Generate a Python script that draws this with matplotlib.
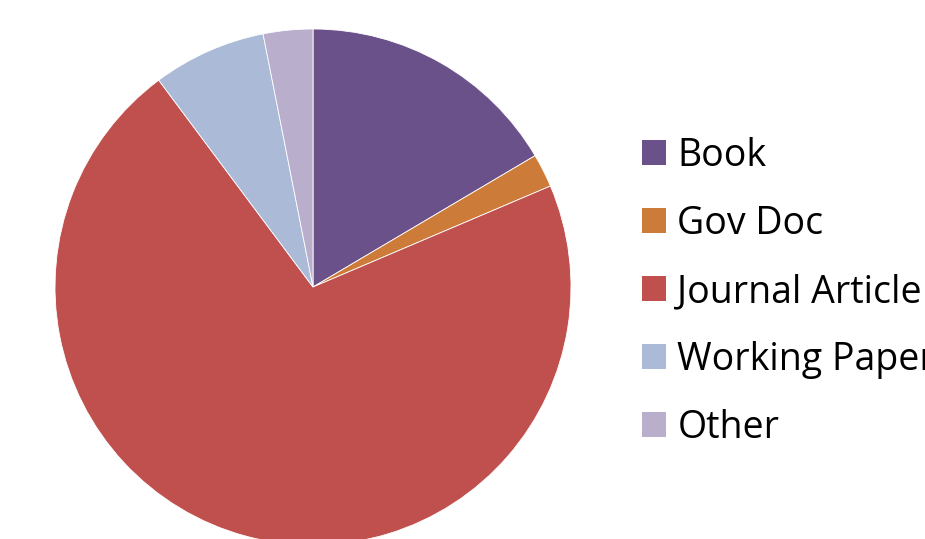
import matplotlib
matplotlib.use("Agg")
import matplotlib.pyplot as plt
from matplotlib.patches import Patch

categories = ["Book", "Gov Doc", "Journal Article", "Working Paper", "Other"]
values = [16.5, 2.1, 71.2, 7.1, 3.1]
colors = ["#6A5189", "#CD7B39", "#C0504D", "#AABAD7", "#B9AECB"]

fig = plt.figure(figsize=(9.25, 5.39), dpi=100)
ax = fig.add_axes([0, 0, 1, 1])
ax.pie(values, colors=colors, startangle=90, counterclock=False,
       center=(313, 252), radius=258,
       wedgeprops=dict(edgecolor="white", linewidth=0.6))
ax.set_xlim(0, 925)
ax.set_ylim(0, 539)
ax.set_aspect("equal", adjustable="box")
ax.axis("off")

handles = [Patch(facecolor=c, edgecolor="none") for c in colors]
fs = 27
leg = fig.legend(handles, categories, loc="upper left",
                 bbox_to_anchor=(642 / 925, 1 - 137 / 539),
                 frameon=False,
                 prop={"family": "Open Sans", "size": fs},
                 handlelength=0.64, handleheight=0.64,
                 handletextpad=0.3, labelspacing=0.8,
                 borderpad=0, borderaxespad=0)

fig.savefig("out.png", dpi=100)
